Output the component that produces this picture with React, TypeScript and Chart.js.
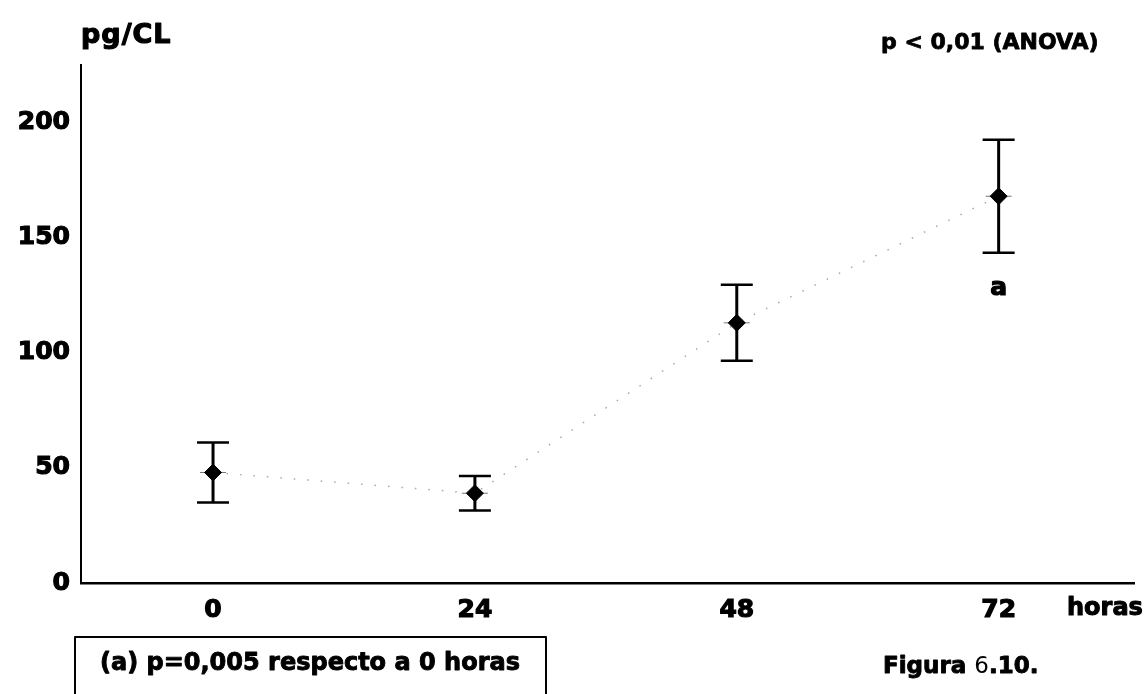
import React, { useEffect, useRef } from "react";
import { Chart, registerables } from "chart.js";

Chart.register(...registerables);

const hours = [0, 24, 48, 72];
const meanValues = [48, 39, 113, 168];
const errorValues = [13, 7.5, 16.5, 24.5];
const yTickValues = [0, 50, 100, 150, 200];
const xTickValues = [0, 24, 48, 72];
const significanceLabels = ["", "", "", "a"];

const FONT = "'DejaVu Sans', sans-serif";

function heavyText(ctx: any, text: string, x: number, y: number, w = 1) {
  ctx.lineWidth = w;
  ctx.strokeStyle = "#000";
  ctx.lineJoin = "round";
  ctx.strokeText(text, x, y);
  ctx.fillText(text, x, y);
}

const annotPlugin = {
  id: "annot",
  beforeDatasetsDraw(chart: any) {
    const ctx = chart.ctx;
    const xs = chart.scales.x;
    const ys = chart.scales.y;
    ctx.save();
    hours.forEach((h, i) => {
      const x = xs.getPixelForValue(h);
      const yt = ys.getPixelForValue(meanValues[i] + errorValues[i]);
      const yb = ys.getPixelForValue(meanValues[i] - errorValues[i]);
      const ym = ys.getPixelForValue(meanValues[i]);
      ctx.strokeStyle = "#000";
      ctx.lineWidth = 3;
      ctx.beginPath();
      ctx.moveTo(x, yt);
      ctx.lineTo(x, yb);
      ctx.stroke();
      ctx.lineWidth = 2.5;
      ctx.beginPath();
      ctx.moveTo(x - 16, yt);
      ctx.lineTo(x + 16, yt);
      ctx.moveTo(x - 16, yb);
      ctx.lineTo(x + 16, yb);
      ctx.stroke();
      ctx.strokeStyle = "#777";
      ctx.lineWidth = 1;
      ctx.beginPath();
      ctx.moveTo(x - 13, ym);
      ctx.lineTo(x + 13, ym);
      ctx.stroke();
    });
    ctx.restore();
  },
  afterDraw(chart: any) {
    const ctx = chart.ctx;
    const xs = chart.scales.x;
    const ys = chart.scales.y;
    ctx.save();
    ctx.fillStyle = "#000";
    ctx.textBaseline = "middle";
    ctx.textAlign = "left";

    ctx.font = `bold 27px ${FONT}`;
    (ctx as any).letterSpacing = "1px";
    heavyText(ctx, "pg/CL", 81, 36, 1.2);
    (ctx as any).letterSpacing = "0px";

    ctx.font = `bold 22px ${FONT}`;
    heavyText(ctx, "p < 0,01 (ANOVA)", 881, 43, 0.8);

    ctx.font = `bold 24px ${FONT}`;
    heavyText(ctx, "horas", 1067, 609, 1);

    // significance letters
    ctx.textAlign = "center";
    ctx.font = `bold 25px ${FONT}`;
    hours.forEach((h, i) => {
      if (!significanceLabels[i]) return;
      const x = xs.getPixelForValue(h);
      const y = ys.getPixelForValue(meanValues[i] - errorValues[i]) + 36;
      heavyText(ctx, significanceLabels[i], x, y, 1.2);
    });

    // footnote box
    ctx.strokeStyle = "#000";
    ctx.lineWidth = 2;
    ctx.strokeRect(75, 637, 471, 80);
    ctx.textAlign = "left";
    ctx.font = `bold 24px ${FONT}`;
    heavyText(ctx, "(a) p=0,005 respecto a 0 horas", 100, 664, 0.9);

    // figure caption
    let cx = 883;
    ctx.font = `bold 23px ${FONT}`;
    heavyText(ctx, "Figura ", cx, 667, 0.9);
    cx += ctx.measureText("Figura ").width;
    ctx.font = `23px ${FONT}`;
    ctx.fillText("6", cx, 667);
    cx += ctx.measureText("6").width;
    ctx.font = `bold 23px ${FONT}`;
    heavyText(ctx, ".10.", cx, 667, 0.9);
    ctx.restore();
  },
};

export default function App() {
  const ref = useRef<HTMLCanvasElement | null>(null);
  useEffect(() => {
    if (!ref.current) return;
    const chart = new Chart(ref.current, {
      type: "line",
      data: {
        datasets: [
          {
            data: hours.map((h, i) => ({ x: h, y: meanValues[i] })),
            showLine: true,
            borderColor: "#a8a8a8",
            borderWidth: 1.5,
            borderDash: [1.5, 12],
            tension: 0,
            pointStyle: "rectRot",
            pointRadius: 8.5,
            pointBackgroundColor: "#000",
            pointBorderColor: "#000",
            pointBorderWidth: 1,
          },
        ],
      },
      options: {
        responsive: false,
        animation: false,
        layout: { padding: { top: 65, right: 9, left: 0, bottom: 0 } },
        plugins: { legend: { display: false }, tooltip: { enabled: false } },
        scales: {
          x: {
            type: "linear",
            min: -12.1,
            max: 84.45,
            afterBuildTicks: (s: any) => {
              s.ticks = xTickValues.map((v) => ({ value: v }));
            },
            afterFit: (s: any) => {
              s.height = 111;
            },
            grid: { display: false, drawTicks: false },
            border: { display: true, color: "#000", width: 2.5 },
            ticks: {
              color: "#000",
              padding: 12,
              font: { family: FONT, size: 25, weight: "bold" },
              textStrokeColor: "#000",
              textStrokeWidth: 1.2,
              maxRotation: 0,
            },
          },
          y: {
            type: "linear",
            min: 0,
            max: 225,
            afterBuildTicks: (s: any) => {
              s.ticks = yTickValues.map((v) => ({ value: v }));
            },
            afterFit: (s: any) => {
              s.width = 81;
            },
            grid: { display: false, drawTicks: false },
            border: { display: true, color: "#000", width: 2 },
            ticks: {
              color: "#000",
              padding: 11,
              font: { family: FONT, size: 25, weight: "bold" },
              textStrokeColor: "#000",
              textStrokeWidth: 1.2,
            },
          },
        },
      },
      plugins: [annotPlugin],
    });
    return () => chart.destroy();
  }, []);
  return (
    <div style={{ position: "absolute", left: 0, top: 0, width: 1144, height: 694, background: "#fff" }}>
      <canvas ref={ref} width={1144} height={694} />
    </div>
  );
}
